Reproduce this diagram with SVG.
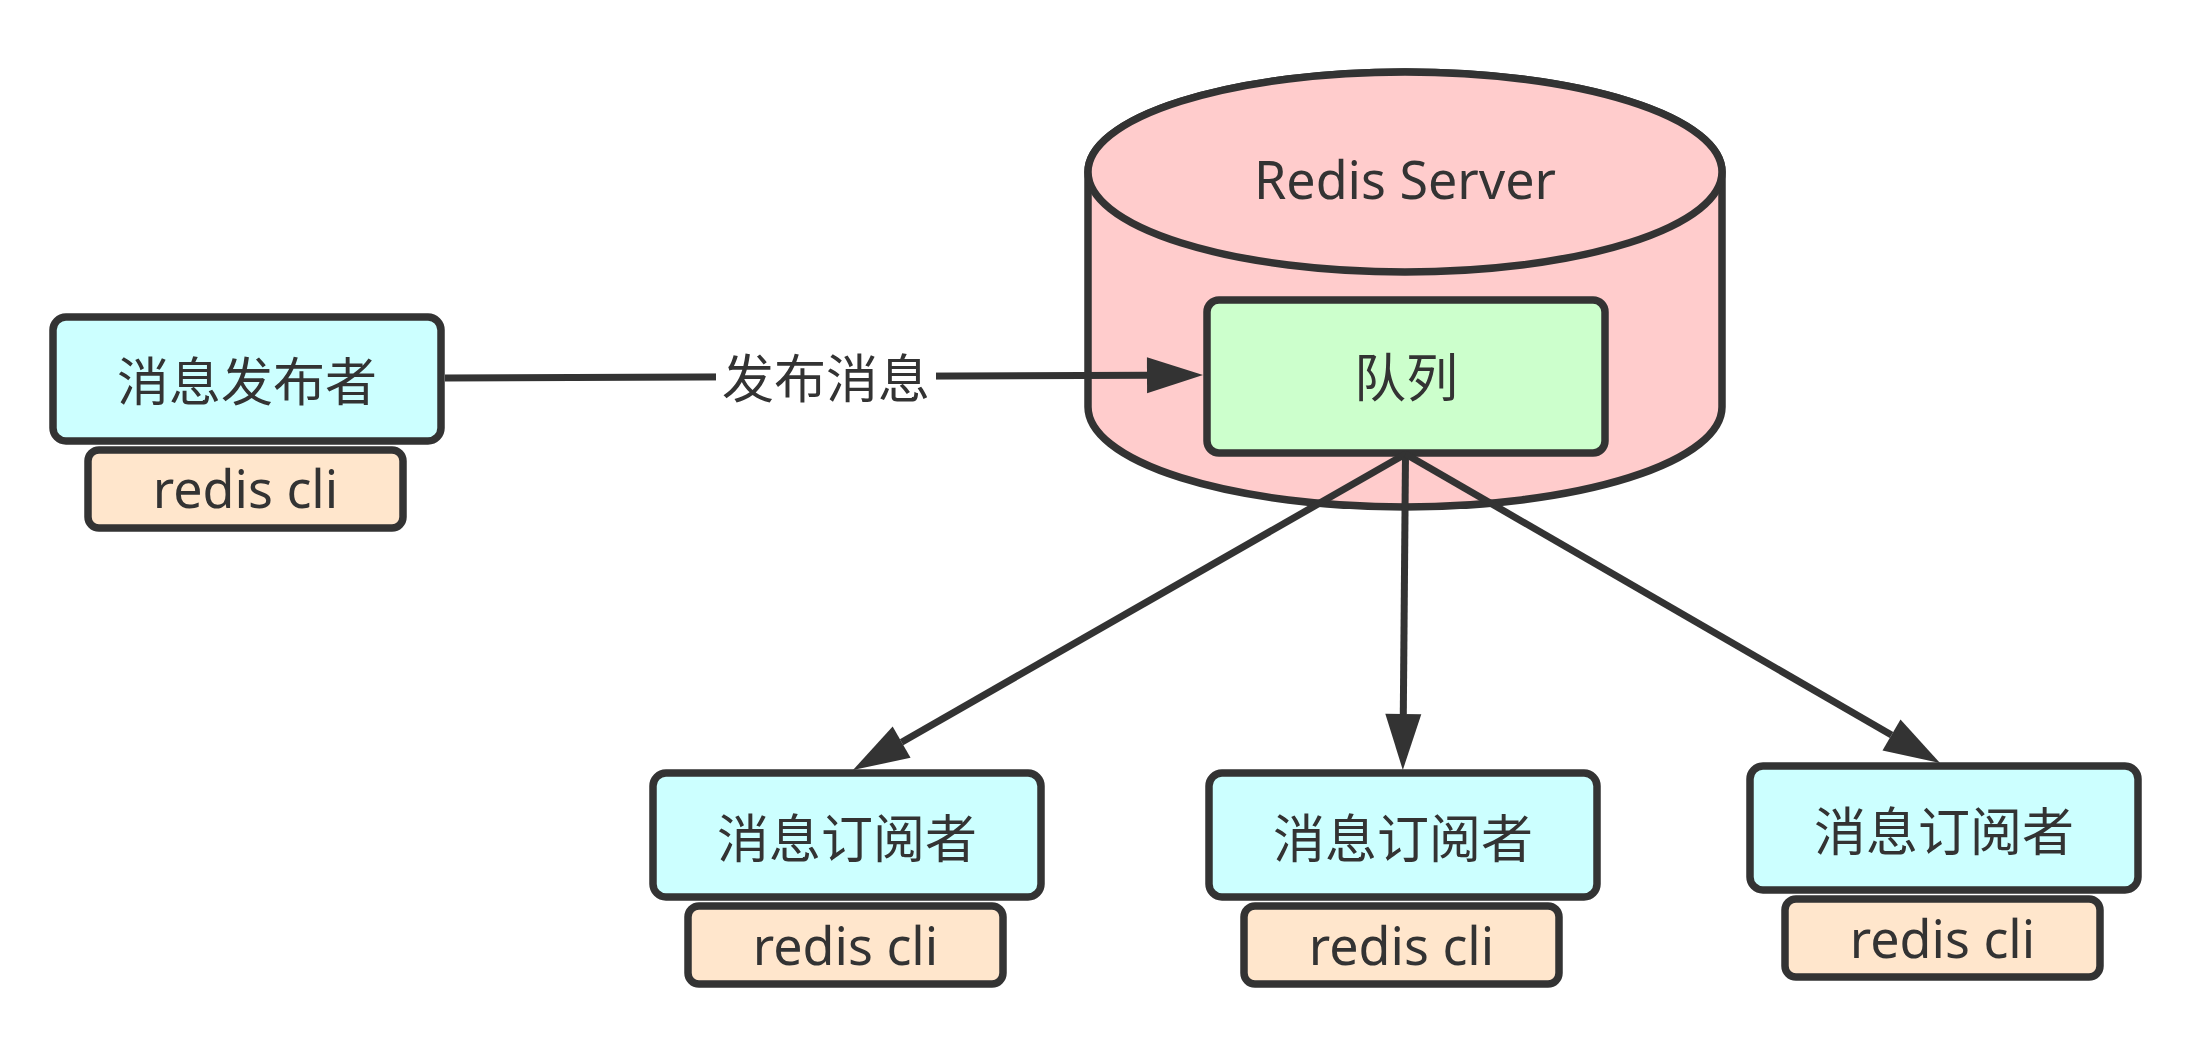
<svg xmlns="http://www.w3.org/2000/svg" width="2204" height="1040" viewBox="0 0 2204 1040">
<defs>
<style>
.t{font-family:"Noto Sans","Noto Sans CJK SC",sans-serif;font-size:52px;fill:#333333;text-anchor:middle}
.box{stroke:#333333;stroke-width:7.5}
.main{fill:#CCFFFF}
.cli{fill:#FFE6CC}
.edge{stroke:#333333;stroke-width:7;fill:none}
</style>
<marker id="arr" markerUnits="userSpaceOnUse" markerWidth="58" markerHeight="38" viewBox="0 0 58 38" refX="1" refY="19" orient="auto">
<path d="M1,1 L57,19 L1,37 Z" fill="#333333"/>
</marker>
</defs>
<rect width="2204" height="1040" fill="#FFFFFF"/>

<g id="redis-server">
<path class="box" fill="#FFCCCC" d="M1088,172 L1088,407 A317,100 0 0 0 1722,407 L1722,172 A317,100 0 0 0 1088,172 Z"/>
<ellipse class="box" fill="#FFCCCC" cx="1405" cy="172" rx="317" ry="100"/>
<text class="t" x="1405" y="199">Redis Server</text>
</g>

<g id="queue">
<rect class="box" fill="#CCFFCC" x="1207" y="300" width="398" height="153" rx="12"/>
<text class="t" x="1406" y="397">队列</text>
</g>

<g id="publisher">
<rect class="box main" x="53" y="317" width="388" height="124" rx="13"/>
<text class="t" x="247" y="401">消息发布者</text>
</g>
<g id="publisher-cli">
<rect class="box cli" x="88" y="450" width="315" height="78" rx="11"/>
<text class="t" x="245.5" y="508">redis cli</text>
</g>

<g id="subscriber1">
<rect class="box main" x="653" y="773" width="388" height="124" rx="13"/>
<text class="t" x="847" y="858">消息订阅者</text>
</g>
<g id="subscriber1-cli">
<rect class="box cli" x="688" y="906" width="315" height="78" rx="11"/>
<text class="t" x="845.5" y="965">redis cli</text>
</g>

<g id="subscriber2">
<rect class="box main" x="1209" y="773" width="388" height="124" rx="13"/>
<text class="t" x="1403" y="858">消息订阅者</text>
</g>
<g id="subscriber2-cli">
<rect class="box cli" x="1244" y="906" width="315" height="78" rx="11"/>
<text class="t" x="1401.5" y="965">redis cli</text>
</g>

<g id="subscriber3">
<rect class="box main" x="1750" y="766" width="388" height="124" rx="13"/>
<text class="t" x="1944" y="851">消息订阅者</text>
</g>
<g id="subscriber3-cli">
<rect class="box cli" x="1785" y="899" width="315" height="78" rx="11"/>
<text class="t" x="1942.5" y="958">redis cli</text>
</g>

<g id="connectors">
<path class="edge" d="M445,378 L1147,375.2" marker-end="url(#arr)"/>
<rect x="716" y="350" width="220" height="56" fill="#FFFFFF"/>
<text class="t" x="826" y="398">发布消息</text>
<path class="edge" d="M1405.5,454 L901.6,742.2" marker-end="url(#arr)"/>
<path class="edge" d="M1405.5,454 L1403.3,714" marker-end="url(#arr)"/>
<path class="edge" d="M1405.5,454 L1891.5,735" marker-end="url(#arr)"/>
</g>
</svg>
